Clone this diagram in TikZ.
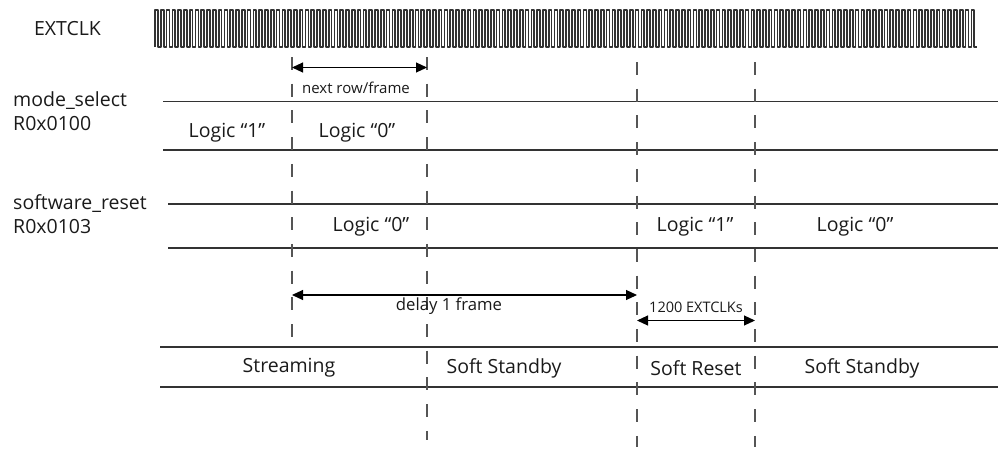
\documentclass[tikz,border=0pt]{standalone}
\usepackage{fontspec}
\setmainfont{Open Sans}
\usetikzlibrary{arrows.meta}
\definecolor{linec}{HTML}{333333}
\definecolor{dashc}{HTML}{555555}
\definecolor{txt}{HTML}{1a1a1a}
\begin{document}
\begin{tikzpicture}[x=1pt,y=-1pt,
  sig/.style={line width=1.4pt, draw=linec},
  guide/.style={line width=1.4pt, draw=dashc, dash pattern=on 13pt off 13.7pt},
  dimline/.style={line width=1.1pt, draw=black, {Triangle[length=11pt,width=10pt]}-{Triangle[length=11pt,width=10pt]}},
  clk/.style={line width=1.7pt, draw=linec, line join=round},
  lbl/.style={font=\fontsize{19.5}{22}\selectfont, text=txt, inner sep=0pt},
  side/.style={font=\fontsize{19.5}{23.5}\selectfont, text=txt, inner sep=0pt, align=left, anchor=west},
  small/.style={font=\fontsize{15}{17}\selectfont, text=txt, inner sep=0pt},
  mid/.style={font=\fontsize{16.7}{19}\selectfont, text=txt, inner sep=0pt},
  tiny/.style={font=\fontsize{14.5}{16}\selectfont, text=txt, inner sep=0pt}]
\useasboundingbox (0,0) rectangle (1002,448);

% clock
\node[lbl] (extclk) at (67.5,29) {EXTCLK};
\draw[clk] (155,47) \foreach \i in {0,...,141} { -- ++(0,-37) -- ++(2.895,0) -- ++(0,37) -- ++(2.895,0) };

% signal rows
\node[side] (ms) at (13,111) {mode\_select\\R0x0100};
\draw[sig] (163,101.5) coordinate (msTa) -- (998,101.5) coordinate (msTb);
\draw[sig] (163,150) coordinate (msBa) -- (998,150) coordinate (msBb);

\node[side] (sr) at (13,214) {software\_reset\\R0x0103};
\draw[sig] (168,204) coordinate (srTa) -- (998,204) coordinate (srTb);
\draw[sig] (168,248) coordinate (srBa) -- (998,248) coordinate (srBb);

\draw[sig] (160,347) coordinate (stTa) -- (998,347) coordinate (stTb);
\draw[sig] (160,387) coordinate (stBa) -- (998,387) coordinate (stBb);

% guides
\coordinate (g1t) at (292,57);  \coordinate (g1b) at (292,338);
\coordinate (g2t) at (427,57);  \coordinate (g2b) at (427,440);
\coordinate (g3t) at (637,62);  \coordinate (g3b) at (637,447);
\coordinate (g4t) at (755,62);  \coordinate (g4b) at (755,447);
\draw[guide] (g1t) -- (g1b);
\draw[guide] (g2t) -- (g2b);
\draw[guide] (g3t) -- (g3b);
\draw[guide] (g4t) -- (g4b);

% row texts
\node[lbl] (m1) at (227,133) {Logic “1”};
\node[lbl] (m0) at (357,133) {Logic “0”};
\node[lbl] (s0a) at (371,227) {Logic “0”};
\node[lbl] (s1) at (695,227) {Logic “1”};
\node[lbl] (s0b) at (855,227) {Logic “0”};
\node[lbl] (st1) at (289,368) {Streaming};
\node[lbl] (st2) at (504,368) {Soft Standby};
\node[lbl] (st3) at (696,368) {Soft Reset};
\node[lbl] (st4) at (862,368) {Soft Standby};

% dimensions
\coordinate (a1l) at (292,67.5); \coordinate (a1r) at (427,67.5);
\draw[dimline] (a1l) -- (a1r);
\node[small] (a1t) at (356,88) {next row/frame};
\coordinate (a2l) at (292,295); \coordinate (a2r) at (637,295);
\draw[dimline] (a2l) -- (a2r);
\node[mid] (a2t) at (449,306) {delay 1 frame};
\coordinate (a3l) at (637,320.5); \coordinate (a3r) at (755,320.5);
\draw[dimline] (a3l) -- (a3r);
\node[tiny] (a3t) at (696,307) {1200 EXTCLKs};
\end{tikzpicture}
\end{document}
